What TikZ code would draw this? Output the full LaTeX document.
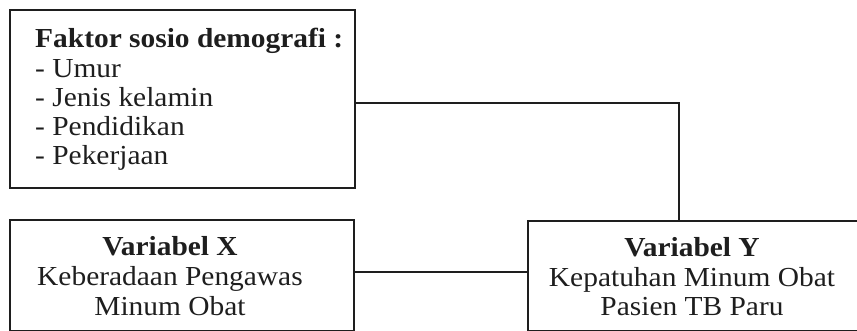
\documentclass[tikz,border=0pt]{standalone}
\usepackage{fontspec}
\setmainfont{Liberation Serif}[FakeStretch=1.07]
\definecolor{ink}{HTML}{1E1E1E}
\begin{document}
\begin{tikzpicture}[x=1pt,y=-1pt,
  box/.style={draw=ink,line width=2pt,inner sep=0pt,anchor=north west},
  txt/.style={inner sep=0pt,text=ink,font=\fontsize{27.5}{29}\selectfont},
  lft/.style={txt,anchor=base west},
  ctr/.style={txt,anchor=base},
  conn/.style={draw=ink,line width=2pt}]
\useasboundingbox (0,0) rectangle (857,331);
\clip (0,0) rectangle (857,331);
% boxes
\node[box,minimum width=345pt,minimum height=178pt] (f) at (9,9) {};
\node[box,minimum width=344pt,minimum height=111pt] (x) at (9,219) {};
\node[box,minimum width=345pt,minimum height=110pt] (y) at (527,220) {};
% box 1 text
\node[lft] (f1) at (35,48) {\textbf{Faktor sosio demografi :}};
\node[lft] (f2) at (35,78) {- Umur};
\node[lft] (f3) at (35,107) {- Jenis kelamin};
\node[lft] (f4) at (35,136) {- Pendidikan};
\node[lft] (f5) at (35,165) {- Pekerjaan};
% box 2 text
\node[ctr] (x1) at (170,256) {\textbf{Variabel X}};
\node[ctr] (x2) at (170,286) {Keberadaan Pengawas};
\node[ctr] (x3) at (170,315) {Minum Obat};
% box 3 text
\node[ctr] (y1) at (692,257) {\textbf{Variabel Y}};
\node[ctr] (y2) at (692,287) {Kepatuhan Minum Obat};
\node[ctr] (y3) at (692,316) {Pasien TB Paru};
% connectors
\coordinate (j) at (679,103);
\coordinate (m) at (440,272);
\draw[conn] (f.east |- j) -- (j) -- (y.north -| j);
\draw[conn] (x.east |- m) -- (y.west |- m);
\end{tikzpicture}
\end{document}
